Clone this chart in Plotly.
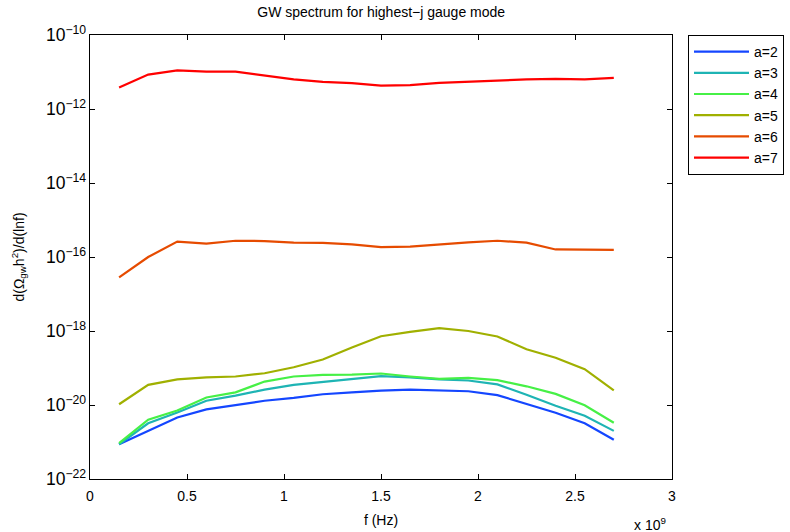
import plotly.graph_objects as go

# ── Data ──
freq = [0.15e9, 0.30e9, 0.45e9, 0.60e9, 0.75e9, 0.90e9, 1.05e9, 1.20e9, 1.35e9,
        1.50e9, 1.65e9, 1.80e9, 1.95e9, 2.10e9, 2.25e9, 2.40e9, 2.55e9, 2.70e9]

a2 = [8.7e-22, 2.0e-21, 4.6e-21, 7.6e-21, 9.8e-21, 1.3e-20, 1.55e-20, 1.95e-20, 2.2e-20,
      2.45e-20, 2.6e-20, 2.45e-20, 2.35e-20, 1.85e-20, 1.07e-20, 6.2e-21, 3.2e-21, 1.15e-21]
a3 = [8.7e-22, 3.2e-21, 6.3e-21, 1.3e-20, 1.8e-20, 2.6e-20, 3.5e-20, 4.2e-20, 5.0e-20,
      6.0e-20, 5.6e-20, 4.9e-20, 4.6e-20, 3.6e-20, 1.9e-20, 9.5e-21, 5.1e-21, 2.0e-21]
a4 = [9.3e-22, 4.0e-21, 7.1e-21, 1.6e-20, 2.2e-20, 4.3e-20, 5.9e-20, 6.5e-20, 6.6e-20,
      7.1e-20, 5.9e-20, 5.1e-20, 5.4e-20, 4.7e-20, 3.2e-20, 2.0e-20, 9.8e-21, 3.3e-21]
a5 = [1.05e-20, 3.5e-20, 4.9e-20, 5.6e-20, 5.9e-20, 7.2e-20, 1.05e-19, 1.7e-19, 3.6e-19,
      7.2e-19, 9.5e-19, 1.2e-18, 1.0e-18, 7.1e-19, 3.2e-19, 1.9e-19, 9.3e-20, 2.5e-20]
a6 = [2.8e-17, 1.0e-16, 2.6e-16, 2.3e-16, 2.75e-16, 2.7e-16, 2.45e-16, 2.4e-16, 2.2e-16,
      1.85e-16, 1.9e-16, 2.2e-16, 2.5e-16, 2.75e-16, 2.45e-16, 1.6e-16, 1.6e-16, 1.55e-16]
a7 = [3.8e-12, 8.5e-12, 1.1e-11, 1.02e-11, 1.02e-11, 8.1e-12, 6.3e-12, 5.4e-12, 5.0e-12,
      4.3e-12, 4.4e-12, 5.1e-12, 5.5e-12, 6.0e-12, 6.3e-12, 6.5e-12, 6.3e-12, 6.9e-12]

names = ["a=2", "a=3", "a=4", "a=5", "a=6", "a=7"]
series = [a2, a3, a4, a5, a6, a7]
colors = ["#1446FF", "#1EB4B4", "#46F046", "#A0B000", "#E64B00", "#FF0000"]

x_tickvals = [0, 0.5e9, 1.0e9, 1.5e9, 2.0e9, 2.5e9, 3.0e9]
x_ticktext = ["0", "0.5", "1", "1.5", "2", "2.5", "3"]

FONT = dict(family="Liberation Sans, Arial, sans-serif", color="black", size=14)

fig = go.Figure()
for name, ys, c in zip(names, series, colors):
    fig.add_trace(go.Scatter(x=freq, y=ys, name=name, mode="lines",
                             line=dict(color=c, width=2.2)))

axis_common = dict(showline=True, linecolor="black", linewidth=1, mirror="ticks",
                   ticks="inside", ticklen=5, tickcolor="black", showgrid=False,
                   zeroline=False, automargin=False, tickfont=dict(size=14))

fig.update_layout(
    width=790, height=532,
    plot_bgcolor="white", paper_bgcolor="white",
    font=FONT,
    margin=dict(l=90, r=118, t=35, b=53, autoexpand=False),
    title=dict(text="GW spectrum for highest\u2212j gauge mode", x=0.4825, xanchor="center",
               y=1 - 12 / 532, yanchor="middle", font=dict(size=14)),
    xaxis=dict(range=[0, 3e9], tickvals=x_tickvals, ticktext=x_ticktext, ticklabelstandoff=4,
               title=dict(text="f (Hz)", standoff=12, font=dict(size=14)), **axis_common),
    yaxis=dict(type="log", range=[-22, -10], dtick=2, exponentformat="power",
               title=dict(text="d(\u03a9<sub>gw</sub>h<sup>2</sup>)/d(lnf)", standoff=18,
                          font=dict(size=14)), **axis_common),
    legend=dict(x=(688 - 90) / 582, y=1.0, xanchor="left", yanchor="top",
                bordercolor="black", borderwidth=1, bgcolor="white",
                font=dict(size=14), itemwidth=55, tracegroupgap=0),
    showlegend=True,
)

fig.add_annotation(text="x 10<sup>9</sup>", xref="paper", yref="paper",
                   x=(668 - 90) / 582, y=-0.076, xanchor="right", yanchor="top",
                   showarrow=False, font=dict(size=14))

# drop the page's default body margin so the figure sits at the window corner
fig.write_html("out.html", config={"displayModeBar": False},
               post_script="document.body.style.margin='0';")
